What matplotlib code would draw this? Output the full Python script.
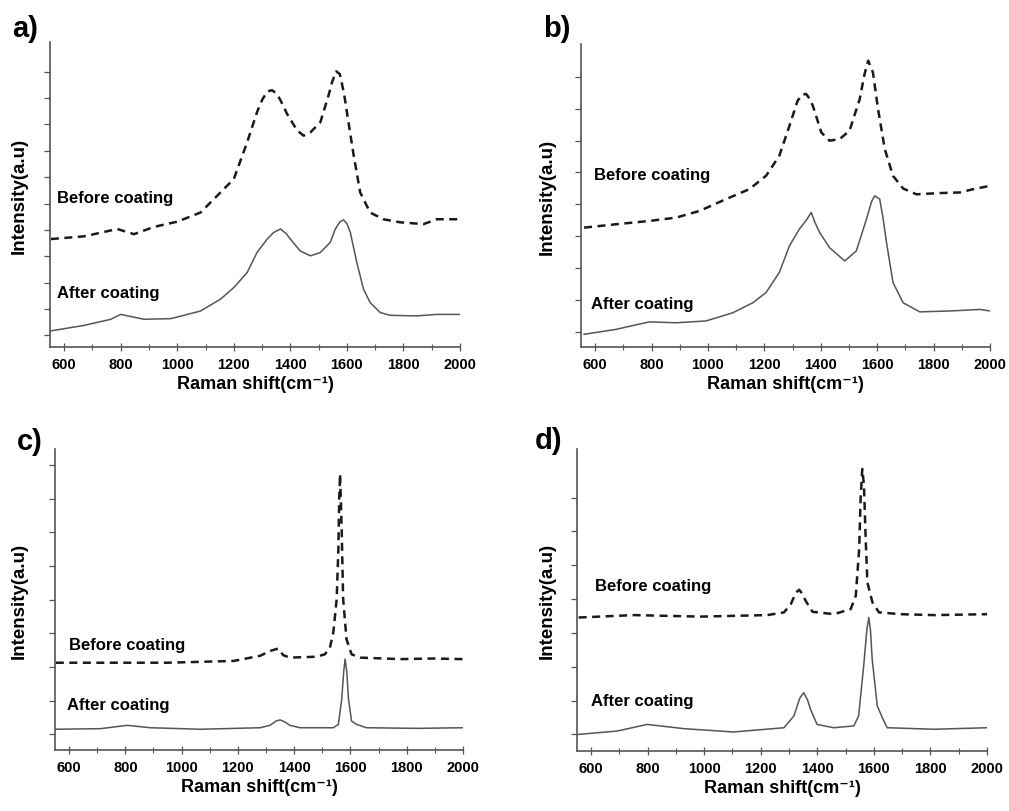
import matplotlib
matplotlib.use("Agg")
import matplotlib.pyplot as plt
import numpy as np

plt.rcParams["font.family"] = ["Liberation Sans", "DejaVu Sans"]
plt.rcParams["font.weight"] = "bold"

# Raman shift (cm-1) and intensity (a.u.)
a_before_x = [553, 671, 788, 847, 918, 1000, 1082, 1153, 1200, 1247, 1282, 1300, 1318, 1335, 1353, 1370,
              1388, 1424, 1447, 1471, 1506, 1535, 1548, 1562, 1575, 1590, 1605, 1624, 1647, 1682,
              1729, 1788, 1871, 1918, 2000]
a_before_y = [35.4, 36.3, 38.7, 37.0, 39.4, 41.1, 44.1, 50.7, 55.1, 67.1, 77.0, 81.0, 83.8, 84.2, 83.0, 80.0,
              76.5, 71.0, 69.3, 70.4, 73.7, 82.5, 87.0, 90.4, 89.5, 83.0, 74.0, 62.8, 50.7, 44.1,
              41.9, 40.9, 40.3, 41.9, 41.9]
a_after_x = [553, 671, 765, 800, 882, 977, 1082, 1153, 1200, 1247, 1282, 1318, 1340, 1365, 1385, 1400,
             1435, 1471, 1506, 1541, 1559, 1575, 1588, 1600, 1612, 1635, 1659, 1682, 1718, 1753,
             1847, 1918, 2000]
a_after_y = [5.3, 7.1, 9.1, 10.7, 9.1, 9.3, 11.8, 15.7, 19.5, 24.4, 31.0, 35.4, 37.5, 38.7, 37.2, 35.4,
             31.5, 29.9, 31.0, 34.3, 38.7, 41.0, 41.7, 40.5, 37.6, 27.7, 18.9, 14.6, 11.3, 10.4,
             10.2, 10.7, 10.7]

b_before_x = [561, 673, 792, 887, 970, 1064, 1147, 1206, 1253, 1289, 1318, 1335, 1348, 1360, 1372, 1402,
              1431, 1467, 1502, 1538, 1555, 1568, 1585, 1603, 1627, 1656, 1692, 1739, 1822, 1893,
              1941, 2000]
b_before_y = [39.4, 40.5, 41.6, 42.7, 44.9, 48.8, 52.1, 56.5, 63.1, 73.0, 81.3, 83.3, 83.5, 82.0, 79.6, 70.8,
              68.1, 68.6, 71.4, 81.8, 90.0, 94.5, 90.6, 78.5, 65.3, 56.5, 52.3, 50.4, 50.8, 51.0,
              52.1, 53.2]
b_after_x = [561, 673, 792, 887, 993, 1088, 1159, 1206, 1253, 1289, 1324, 1350, 1366, 1380, 1396, 1431,
             1485, 1526, 1562, 1580, 1591, 1609, 1620, 1633, 1656, 1692, 1751, 1858, 1965, 2000]
b_after_y = [4.2, 5.8, 8.3, 8.0, 8.6, 11.3, 14.6, 18.0, 24.6, 33.4, 38.9, 42.0, 44.4, 41.0, 37.8, 32.8,
             28.4, 31.7, 42.2, 48.0, 49.9, 48.8, 43.0, 34.5, 21.3, 14.6, 11.6, 11.9, 12.4, 11.9]

c_before_x = [553, 712, 949, 1185, 1279, 1314, 1343, 1361, 1385, 1480, 1509, 1527, 1539, 1551, 1557,
              1560, 1563, 1569, 1574, 1586, 1604, 1634, 1776, 1894, 2000]
c_before_y = [29.0, 29.0, 29.0, 29.6, 31.3, 32.9, 33.7, 31.5, 30.7, 31.0, 31.8, 34.0, 39.0, 50.1, 66.7,
              83.4, 91.7, 72.3, 50.1, 36.8, 31.8, 30.7, 30.2, 30.4, 30.2]
c_after_x = [553, 712, 807, 889, 1067, 1279, 1314, 1335, 1350, 1365, 1385, 1421, 1539, 1557, 1569,
             1576, 1581, 1587, 1593, 1604, 1622, 1657, 1835, 2000]
c_after_y = [6.9, 7.1, 8.2, 7.4, 6.9, 7.4, 8.2, 9.6, 10.0, 9.4, 8.2, 7.4, 7.4, 8.5, 16.9,
             26.0, 30.2, 26.0, 16.9, 9.6, 8.5, 7.4, 7.2, 7.4]

d_before_x = [556, 751, 987, 1223, 1282, 1306, 1325, 1336, 1347, 1359, 1383, 1459, 1518, 1536, 1548,
              1553, 1559, 1565, 1571, 1577, 1595, 1618, 1695, 1813, 2000]
d_before_y = [44.2, 45.0, 44.5, 45.0, 45.9, 48.6, 52.5, 53.4, 52.0, 49.7, 46.1, 45.3, 47.0, 51.4, 66.9,
              83.4, 93.4, 87.8, 70.2, 55.8, 49.2, 45.9, 45.3, 45.0, 45.3]
d_after_x = [556, 692, 798, 928, 1104, 1282, 1317, 1338, 1352, 1365, 1376, 1399, 1458, 1529, 1546,
             1564, 1575, 1582, 1588, 1594, 1612, 1630, 1647, 1813, 2000]
d_after_y = [5.5, 6.6, 8.8, 7.4, 6.3, 7.7, 11.6, 17.5, 19.3, 17.0, 13.8, 8.8, 7.7, 8.3, 11.6,
             28.2, 40.0, 44.2, 40.0, 30.4, 14.9, 11.0, 7.7, 7.2, 7.7]

panel_labels = ["a)", "b)", "c)", "d)"]

# (before_x, before_y, after_x, after_y, label positions, first y tick, tick spacing)
panels = [
    (a_before_x, a_before_y, a_after_x, a_after_y, (576, 49.1), (576, 17.9), 3.8, 8.65),
    (b_before_x, b_before_y, b_after_x, b_after_y, (596, 57.0), (585, 14.4), 5.1, 10.5),
    (c_before_x, c_before_y, c_after_x, c_after_y, (600, 34.9), (594, 15.0), 5.2, 11.18),
    (d_before_x, d_before_y, d_after_x, d_after_y, (615, 54.7), (600, 16.6), 5.5, 11.2),
]

rects = [
    [0.0496, 0.5714, 0.4063, 0.3756],
    [0.5758, 0.5714, 0.4054, 0.3732],
    [0.0545, 0.0751, 0.4044, 0.3707],
    [0.5718, 0.0739, 0.4064, 0.3719],
]
ylabel_x = [19, 547, 19, 547]
plabel_pos = [(12, 37), (543, 37), (17, 450), (535, 449)]

fig = plt.figure(figsize=(10.09, 8.12), dpi=100)
W, H = 1009, 812

for i, (bx, by, ax_, ay, bpos, apos, t0, dt) in enumerate(panels):
    ax = fig.add_axes(rects[i])
    ax.plot(bx, by, color="#1a1a1a", lw=1.8, ls=(0, (3.2, 2.2)))
    ax.plot(ax_, ay, color="#555555", lw=1.1)
    ax.text(*bpos, "Before coating", fontsize=12, fontweight="bold", va="center", ha="left")
    ax.text(*apos, "After coating", fontsize=12, fontweight="bold", va="center", ha="left")

    ax.set_xlim(550, 2000)
    ax.set_ylim(0, 100)
    ax.set_xticks(np.arange(600, 2001, 200))
    ax.set_xticks(np.arange(600, 2001, 100), minor=True)
    ax.set_yticks(np.arange(t0, 95, dt))
    ax.set_yticklabels([])
    for lbl in ax.get_xticklabels():
        lbl.set_fontweight("bold")
    ax.tick_params(axis="x", labelsize=10.5, direction="inout", length=6, width=0.9, color="#555555", pad=4)
    ax.tick_params(axis="x", which="minor", direction="inout", length=4, width=0.8, color="#555555")
    ax.tick_params(axis="y", direction="out", length=4, width=0.9, color="#555555")
    for s in ("top", "right"):
        ax.spines[s].set_visible(False)
    for s in ("left", "bottom"):
        ax.spines[s].set_color("#555555")
        ax.spines[s].set_linewidth(1.2)

    ax.set_xlabel("Raman shift(cm\u207b\u00b9)", fontsize=13, fontweight="bold", labelpad=3)

    # y label and panel tag placed in figure pixels
    r = rects[i]
    fig.text(ylabel_x[i] / W, r[1] + r[3] / 2, "Intensity(a.u)", rotation=90, fontsize=13.5,
             fontweight="bold", ha="center", va="center")
    px, py = plabel_pos[i]
    fig.text(px / W, 1 - py / H, panel_labels[i], fontsize=21, fontweight="bold", ha="left", va="baseline")

fig.savefig("out.png", dpi=100)
